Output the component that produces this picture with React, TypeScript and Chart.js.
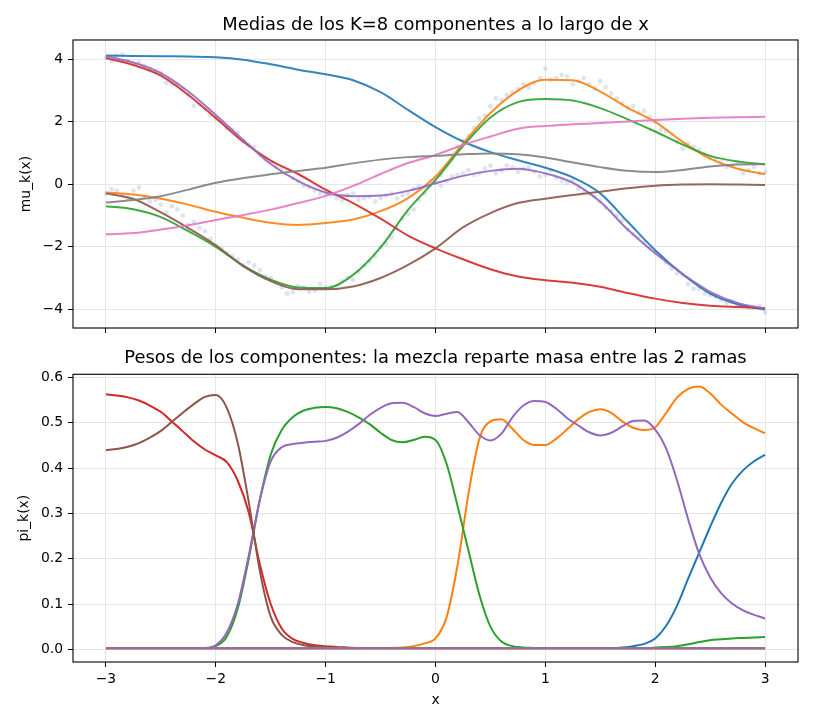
import React, { useEffect, useRef } from 'react';
import { Chart, registerables } from 'chart.js';

Chart.register(...registerables);

const FONT = "'DejaVu Sans', sans-serif";

// ---------- shared ----------
const xTicks = [-3, -2, -1, 0, 1, 2, 3];
const muTicks = [-4, -2, 0, 2, 4];
const piTicks = [0, 0.1, 0.2, 0.3, 0.4, 0.5, 0.6];
const seriesColors = ['#1f77b4', '#ff7f0e', '#2ca02c', '#d62728', '#9467bd', '#8c564b', '#e377c2', '#7f7f7f'];
const topTitle = 'Medias de los K=8 componentes a lo largo de x';
const bottomTitle = 'Pesos de los componentes: la mezcla reparte masa entre las 2 ramas';

// ---------- top panel: means ----------
const xMu = [-3, -2.75, -2.5, -2.25, -2, -1.75, -1.5, -1.25, -1, -0.75, -0.5, -0.25, 0, 0.25, 0.5, 0.75, 1, 1.25, 1.5, 1.75, 2, 2.25, 2.5, 2.75, 3];
const muBlue = [4.12, 4.11, 4.10, 4.09, 4.07, 3.99, 3.84, 3.67, 3.52, 3.33, 2.95, 2.38, 1.83, 1.37, 1.03, 0.77, 0.53, 0.22, -0.29, -1.2, -2.11, -2.88, -3.5, -3.84, -4.01];
const muOrange = [-0.26, -0.33, -0.46, -0.65, -0.88, -1.07, -1.23, -1.3, -1.24, -1.13, -0.86, -0.44, 0.25, 1.3, 2.28, 3.0, 3.35, 3.33, 2.97, 2.45, 2.0, 1.36, 0.82, 0.5, 0.33];
const muGreen = [-0.7, -0.8, -1.05, -1.5, -2.0, -2.6, -3.05, -3.3, -3.32, -2.9, -2.02, -0.82, 0.14, 1.22, 2.14, 2.63, 2.73, 2.68, 2.44, 2.08, 1.69, 1.27, 0.91, 0.73, 0.64];
const muRed = [4.04, 3.82, 3.48, 2.86, 2.12, 1.36, 0.76, 0.33, -0.17, -0.6, -1.1, -1.64, -2.05, -2.4, -2.72, -2.95, -3.07, -3.15, -3.28, -3.48, -3.66, -3.8, -3.89, -3.93, -3.96];
const muPurple = [4.1, 3.9, 3.56, 2.97, 2.22, 1.42, 0.65, 0.1, -0.26, -0.38, -0.36, -0.21, 0.03, 0.27, 0.43, 0.5, 0.35, 0.05, -0.56, -1.45, -2.21, -2.87, -3.44, -3.8, -3.98];
const muBrown = [-0.29, -0.47, -0.9, -1.4, -1.95, -2.62, -3.1, -3.36, -3.36, -3.27, -3.0, -2.58, -2.05, -1.38, -0.92, -0.6, -0.46, -0.34, -0.24, -0.13, -0.05, -0.01, 0, -0.01, -0.02];
const muPink = [-1.6, -1.56, -1.45, -1.31, -1.14, -0.98, -0.81, -0.6, -0.37, -0.05, 0.33, 0.68, 0.94, 1.26, 1.53, 1.78, 1.87, 1.92, 1.96, 2.01, 2.06, 2.1, 2.13, 2.15, 2.16];
const muGray = [-0.58, -0.5, -0.38, -0.17, 0.05, 0.2, 0.32, 0.43, 0.53, 0.67, 0.79, 0.87, 0.91, 0.96, 0.99, 0.96, 0.86, 0.7, 0.55, 0.43, 0.39, 0.46, 0.57, 0.63, 0.64];

// observed data points (two branches)
const dotsX1 = [
  -3.0, -2.9, -2.8, -2.7, -2.6, -2.5, -2.4, -2.3, -2.2, -2.1,
  -2.0, -1.9, -1.8, -1.7, -1.6, -1.5, -1.4, -1.3, -1.2, -1.1,
  -1.0, -0.9, -0.8, -0.7, -0.6, -0.5, -0.4, -0.3, -0.2, -0.1,
  0.0, 0.1, 0.2, 0.3, 0.4, 0.5, 0.6, 0.7, 0.8, 0.9,
  1.0, 1.1, 1.2, 1.3, 1.4, 1.5, 1.6, 1.7, 1.8, 1.9,
  2.0, 2.1, 2.2, 2.3, 2.4, 2.5, 2.6, 2.7, 2.8, 2.9,
  3.0,
];
const dotsA1 = [
  4.05, 4.12, 3.95, 3.9, 3.7, 3.55, 3.2, 3.05, 2.5, 2.4,
  2.1, 1.8, 1.65, 1.25, 0.95, 0.7, 0.5, 0.2, -0.05, -0.2,
  -0.3, -0.45, -0.35, -0.5, -0.4, -0.45, -0.3, -0.35, -0.15, -0.1,
  0.05, 0.1, 0.3, 0.45, 0.35, 0.6, 0.45, 0.55, 0.5, 0.4,
  0.3, 0.2, 0.05, -0.15, -0.3, -0.55, -0.85, -1.15, -1.6, -1.85,
  -2.2, -2.5, -2.85, -3.2, -3.35, -3.55, -3.7, -3.75, -3.9, -3.95,
  -4.1,
];
const dotsB1 = [
  -0.3, -0.2, -0.45, -0.1, -0.55, -0.65, -0.7, -1.0, -1.2, -1.5,
  -1.95, -2.2, -2.4, -2.5, -2.75, -3.0, -3.3, -3.45, -3.3, -3.4,
  -3.3, -3.25, -3.0, -2.8, -2.45, -2.0, -1.7, -1.1, -0.8, -0.3,
  0.1, 0.6, 1.2, 1.55, 2.1, 2.5, 2.7, 2.95, 3.2, 3.25,
  3.7, 3.4, 3.45, 3.3, 3.2, 3.3, 2.9, 2.6, 2.5, 2.35,
  2.0, 1.7, 1.35, 1.3, 1.1, 0.85, 0.7, 0.6, 0.35, 0.55,
  0.4,
];
const dotsX2 = [
  -2.95, -2.85, -2.75, -2.65, -2.55, -2.45, -2.35, -2.25, -2.15, -2.05,
  -1.95, -1.85, -1.75, -1.65, -1.55, -1.45, -1.35, -1.25, -1.15, -1.05,
  -0.95, -0.85, -0.75, -0.65, -0.55, -0.45, -0.35, -0.25, -0.15, -0.05,
  0.05, 0.15, 0.25, 0.35, 0.45, 0.55, 0.65, 0.75, 0.85, 0.95,
  1.05, 1.15, 1.25, 1.35, 1.45, 1.55, 1.65, 1.75, 1.85, 1.95,
  2.05, 2.15, 2.25, 2.35, 2.45, 2.55, 2.65, 2.75, 2.85, 2.95,
];
const dotsA2 = [
  3.95, 4.15, 3.85, 3.8, 3.6, 3.25, 3.2, 2.85, 2.55, 2.2,
  2.0, 1.75, 1.4, 1.2, 0.8, 0.55, 0.45, 0.1, -0.1, -0.3,
  -0.35, -0.5, -0.3, -0.45, -0.55, -0.35, -0.45, -0.3, -0.05, 0.1,
  -0.05, 0.25, 0.35, 0.3, 0.5, 0.35, 0.6, 0.4, 0.55, 0.25,
  0.45, 0.1, 0.15, -0.25, -0.4, -0.75, -1.0, -1.45, -1.7, -2.05,
  -2.3, -2.7, -2.9, -3.35, -3.5, -3.6, -3.8, -3.85, -3.95, -3.9,
];
const dotsB2 = [
  -0.15, -0.35, -0.2, -0.4, -0.5, -0.9, -0.8, -1.3, -1.4, -1.75,
  -2.05, -2.3, -2.6, -2.6, -2.95, -3.15, -3.5, -3.25, -3.45, -3.2,
  -3.3, -3.1, -3.05, -2.6, -2.3, -1.9, -1.4, -0.95, -0.5, -0.05,
  0.3, 0.8, 1.4, 1.8, 2.2, 2.75, 2.85, 3.05, 3.1, 3.4,
  3.35, 3.5, 3.2, 3.4, 3.05, 3.1, 2.75, 2.45, 2.3, 2.15,
  1.75, 1.6, 1.15, 1.2, 0.95, 0.8, 0.55, 0.7, 0.45, 0.35,
];

// ---------- bottom panel: weights ----------
const xPi = [
  -3.0, -2.9, -2.8, -2.7, -2.6, -2.5, -2.4, -2.3, -2.2, -2.1,
  -2.0, -1.9, -1.8, -1.7, -1.6, -1.5, -1.4, -1.3, -1.2, -1.1,
  -1.0, -0.9, -0.8, -0.7, -0.6, -0.5, -0.4, -0.3, -0.2, -0.1,
  0.0, 0.1, 0.2, 0.3, 0.4, 0.5, 0.6, 0.7, 0.8, 0.9,
  1.0, 1.1, 1.2, 1.3, 1.4, 1.5, 1.6, 1.7, 1.8, 1.9,
  2.0, 2.1, 2.2, 2.3, 2.4, 2.5, 2.6, 2.7, 2.8, 2.9,
  3.0,
];
const piBlue = [
  0.001, 0.001, 0.001, 0.001, 0.001, 0.001, 0.001, 0.001, 0.001, 0.001,
  0.001, 0.001, 0.001, 0.001, 0.001, 0.001, 0.001, 0.001, 0.001, 0.001,
  0.001, 0.001, 0.001, 0.001, 0.001, 0.001, 0.001, 0.001, 0.001, 0.001,
  0.001, 0.001, 0.001, 0.001, 0.001, 0.001, 0.001, 0.001, 0.001, 0.001,
  0.001, 0.001, 0.001, 0.001, 0.001, 0.001, 0.002, 0.004, 0.007, 0.012,
  0.024, 0.052, 0.097, 0.156, 0.213, 0.27, 0.323, 0.366, 0.395, 0.415,
  0.429,
];
const piOrange = [
  0.001, 0.001, 0.001, 0.001, 0.001, 0.001, 0.001, 0.001, 0.001, 0.001,
  0.001, 0.001, 0.001, 0.001, 0.001, 0.001, 0.001, 0.001, 0.001, 0.001,
  0.001, 0.001, 0.001, 0.001, 0.001, 0.002, 0.003, 0.004, 0.007, 0.013,
  0.024, 0.07, 0.185, 0.343, 0.465, 0.503, 0.508, 0.487, 0.462, 0.451,
  0.451, 0.465, 0.486, 0.508, 0.524, 0.53, 0.522, 0.503, 0.489, 0.484,
  0.49, 0.522, 0.556, 0.575, 0.58, 0.565, 0.54, 0.52, 0.501, 0.488,
  0.477,
];
const piGreen = [
  0.001, 0.001, 0.001, 0.001, 0.001, 0.001, 0.001, 0.001, 0.001, 0.002,
  0.007, 0.028, 0.09, 0.2, 0.329, 0.43, 0.484, 0.512, 0.527, 0.533,
  0.535, 0.532, 0.524, 0.512, 0.497, 0.478, 0.462, 0.457, 0.462, 0.469,
  0.462, 0.41, 0.317, 0.218, 0.12, 0.05, 0.017, 0.007, 0.004, 0.003,
  0.002, 0.002, 0.002, 0.002, 0.002, 0.002, 0.002, 0.002, 0.002, 0.002,
  0.004, 0.005, 0.007, 0.011, 0.016, 0.02, 0.022, 0.024, 0.025, 0.026,
  0.027,
];
const piRed = [
  0.563, 0.56, 0.556, 0.549, 0.538, 0.524, 0.503, 0.481, 0.459, 0.441,
  0.428, 0.413, 0.372, 0.302, 0.189, 0.1, 0.046, 0.023, 0.014, 0.009,
  0.007, 0.005, 0.004, 0.003, 0.003, 0.002, 0.002, 0.002, 0.002, 0.002,
  0.002, 0.002, 0.002, 0.002, 0.002, 0.002, 0.002, 0.002, 0.002, 0.002,
  0.002, 0.002, 0.002, 0.002, 0.002, 0.002, 0.002, 0.002, 0.002, 0.002,
  0.002, 0.002, 0.002, 0.002, 0.002, 0.002, 0.002, 0.002, 0.002, 0.002,
  0.002,
];
const piPurple = [
  0.001, 0.001, 0.001, 0.001, 0.001, 0.001, 0.001, 0.001, 0.001, 0.003,
  0.009, 0.037, 0.1, 0.207, 0.329, 0.415, 0.446, 0.453, 0.456, 0.458,
  0.46, 0.467, 0.48, 0.497, 0.517, 0.533, 0.543, 0.544, 0.535, 0.521,
  0.515, 0.52, 0.524, 0.501, 0.473, 0.461, 0.476, 0.512, 0.538, 0.548,
  0.546, 0.531, 0.51, 0.494, 0.479, 0.472, 0.478, 0.492, 0.504, 0.505,
  0.485, 0.443, 0.372, 0.287, 0.211, 0.159, 0.124, 0.101, 0.086, 0.076,
  0.068,
];
const piBrown = [
  0.44, 0.442, 0.447, 0.455, 0.467, 0.482, 0.502, 0.522, 0.541, 0.557,
  0.561, 0.533, 0.455, 0.325, 0.174, 0.072, 0.032, 0.016, 0.009, 0.006,
  0.004, 0.003, 0.002, 0.002, 0.002, 0.002, 0.002, 0.002, 0.002, 0.002,
  0.002, 0.002, 0.002, 0.002, 0.002, 0.002, 0.002, 0.002, 0.002, 0.002,
  0.002, 0.002, 0.002, 0.002, 0.002, 0.002, 0.002, 0.002, 0.002, 0.002,
  0.002, 0.002, 0.002, 0.002, 0.002, 0.002, 0.002, 0.002, 0.002, 0.002,
  0.002,
];
const piPink = [
  0.0005, 0.0005, 0.0005, 0.0005, 0.0005, 0.0005, 0.0005, 0.0005, 0.0005, 0.0005,
  0.0005, 0.0005, 0.0005, 0.0005, 0.0005, 0.0005, 0.0005, 0.0005, 0.0005, 0.0005,
  0.0005, 0.0005, 0.0005, 0.0005, 0.0005, 0.0005, 0.0005, 0.0005, 0.0005, 0.0005,
  0.0005, 0.0005, 0.0005, 0.0005, 0.0005, 0.0005, 0.0005, 0.0005, 0.0005, 0.0005,
  0.0005, 0.0005, 0.0005, 0.0005, 0.0005, 0.0005, 0.0005, 0.0005, 0.0005, 0.0005,
  0.0005, 0.0005, 0.0005, 0.0005, 0.0005, 0.0005, 0.0005, 0.0005, 0.0005, 0.0005,
  0.0005,
];
const piGray = [
  0.003, 0.003, 0.003, 0.003, 0.003, 0.003, 0.003, 0.003, 0.003, 0.003,
  0.003, 0.003, 0.003, 0.003, 0.003, 0.003, 0.003, 0.003, 0.003, 0.003,
  0.003, 0.003, 0.003, 0.003, 0.003, 0.003, 0.003, 0.003, 0.003, 0.003,
  0.003, 0.003, 0.003, 0.003, 0.003, 0.003, 0.003, 0.003, 0.003, 0.003,
  0.003, 0.003, 0.003, 0.003, 0.003, 0.003, 0.003, 0.003, 0.003, 0.003,
  0.003, 0.003, 0.003, 0.003, 0.003, 0.003, 0.003, 0.003, 0.003, 0.003,
  0.003,
];

const muSeries = [muBlue, muOrange, muGreen, muRed, muPurple, muBrown, muPink, muGray];
const piSeries = [piBlue, piOrange, piGreen, piRed, piPurple, piBrown, piPink, piGray];

// ---------- helpers ----------
const pts = (xs: number[], ys: number[]) => xs.map((x, i) => ({ x, y: ys[i] }));
const minusFmt = (v: number) => (v < 0 ? '\u2212' + String(Math.abs(v)) : String(v));
const hexA = (hex: string, a: number) => {
  const n = parseInt(hex.slice(1), 16);
  return `rgba(${(n >> 16) & 255},${(n >> 8) & 255},${n & 255},${a})`;
};

const framePlugin = {
  id: 'frame',
  afterDraw(chart: any) {
    const { ctx, chartArea: a } = chart;
    ctx.save();
    ctx.strokeStyle = '#000';
    ctx.lineWidth = 1.1;
    ctx.strokeRect(a.left, a.top, a.right - a.left, a.bottom - a.top);
    ctx.restore();
  },
};

const GRID = '#e6e6e6';
const TICK_FONT = { family: FONT, size: 13.9 };
const TITLE_FONT = { family: FONT, size: 17.9, weight: 'normal' };

function lineDatasets(xs: number[], series: number[][], alpha: number) {
  return series.map((ys, k) => ({
    type: 'line' as const,
    data: pts(xs, ys),
    borderColor: hexA(seriesColors[k], alpha),
    backgroundColor: hexA(seriesColors[k], alpha),
    borderWidth: 2,
    pointRadius: 0,
    showLine: true,
    fill: false,
    cubicInterpolationMode: 'monotone' as const,
    order: 10 - k,
  }));
}

export default function App() {
  const topRef = useRef<HTMLCanvasElement>(null);
  const botRef = useRef<HTMLCanvasElement>(null);

  useEffect(() => {
    Chart.defaults.font.family = FONT;
    Chart.defaults.color = '#000';

    const xScaleBase = {
      type: 'linear' as const,
      min: -3.3,
      max: 3.3,
      afterBuildTicks: (s: any) => { s.ticks = xTicks.map((v) => ({ value: v })); },
      grid: { color: GRID, lineWidth: 1, tickColor: '#000', tickLength: 5, drawTicks: true },
      border: { display: false },
    };

    const dotStyle = {
      type: 'scatter' as const,
      pointRadius: 2.4,
      pointBorderWidth: 0,
      pointBackgroundColor: 'rgba(176,196,222,0.45)',
      borderColor: 'rgba(176,196,222,0.45)',
      showLine: false,
      order: 100,
    };

    const top = new Chart(topRef.current!, {
      type: 'scatter',
      data: {
        datasets: [
          { ...dotStyle, data: pts(dotsX1, dotsA1) },
          { ...dotStyle, data: pts(dotsX1, dotsB1) },
          { ...dotStyle, data: pts(dotsX2, dotsA2) },
          { ...dotStyle, data: pts(dotsX2, dotsB2) },
          ...lineDatasets(xMu, muSeries, 0.9),
        ] as any,
      },
      options: {
        responsive: false,
        animation: false,
        events: [],
        layout: { padding: { left: 0, right: 16, top: 0, bottom: 6 } },
        plugins: {
          legend: { display: false },
          tooltip: { enabled: false },
          title: {
            display: true,
            fullSize: false,
            text: topTitle,
            color: '#000',
            font: TITLE_FONT,
            padding: { top: 14.5, bottom: 4 },
          },
        },
        scales: {
          x: {
            ...xScaleBase,
            ticks: { display: false },
            afterFit: (s: any) => { s.height = 8; },
          },
          y: {
            type: 'linear',
            min: -4.6,
            max: 4.62,
            afterBuildTicks: (s: any) => { s.ticks = muTicks.map((v) => ({ value: v })); },
            afterFit: (s: any) => { s.width = 73; },
            grid: { color: GRID, lineWidth: 1, tickColor: '#000', tickLength: 5 },
            border: { display: false },
            ticks: { font: TICK_FONT, color: '#000', padding: 5, callback: (v: any) => minusFmt(Number(v)) },
            title: {
              display: true,
              text: 'mu_k(x)',
              color: '#000',
              font: TICK_FONT,
              padding: { top: 17.6, bottom: 0 },
            },
          },
        },
      } as any,
      plugins: [framePlugin],
    });

    const bot = new Chart(botRef.current!, {
      type: 'scatter',
      data: { datasets: lineDatasets(xPi, piSeries, 1) as any },
      options: {
        responsive: false,
        animation: false,
        events: [],
        layout: { padding: { left: 0, right: 16, top: 0, bottom: 0 } },
        plugins: {
          legend: { display: false },
          tooltip: { enabled: false },
          title: {
            display: true,
            fullSize: false,
            text: bottomTitle,
            color: '#000',
            font: TITLE_FONT,
            padding: { top: 7.5, bottom: 5.3 },
          },
        },
        scales: {
          x: {
            ...xScaleBase,
            ticks: { font: TICK_FONT, color: '#000', padding: 4, maxRotation: 0, callback: (v: any) => minusFmt(Number(v)) },
            afterFit: (s: any) => { s.height = 64; },
            title: {
              display: true,
              text: 'x',
              color: '#000',
              font: TICK_FONT,
              padding: { top: 0, bottom: 17.2 },
            },
          },
          y: {
            type: 'linear',
            min: -0.028,
            max: 0.607,
            afterBuildTicks: (s: any) => { s.ticks = piTicks.map((v) => ({ value: v })); },
            afterFit: (s: any) => { s.width = 73; },
            grid: { color: GRID, lineWidth: 1, tickColor: '#000', tickLength: 5 },
            border: { display: false },
            ticks: { font: TICK_FONT, color: '#000', padding: 5, callback: (v: any) => Number(v).toFixed(1) },
            title: {
              display: true,
              text: 'pi_k(x)',
              color: '#000',
              font: TICK_FONT,
              padding: { top: 15.6, bottom: 0 },
            },
          },
        },
      } as any,
      plugins: [framePlugin],
    });

    return () => {
      top.destroy();
      bot.destroy();
    };
  }, []);

  return (
    <div style={{ position: 'absolute', left: 0, top: 0, width: 814, height: 726, background: '#fff' }}>
      <canvas
        ref={topRef}
        width={814}
        height={342}
        style={{ position: 'absolute', left: 0, top: 0, width: 814, height: 342, display: 'block' }}
      />
      <canvas
        ref={botRef}
        width={814}
        height={386}
        style={{ position: 'absolute', left: 0, top: 340, width: 814, height: 386, display: 'block' }}
      />
    </div>
  );
}
